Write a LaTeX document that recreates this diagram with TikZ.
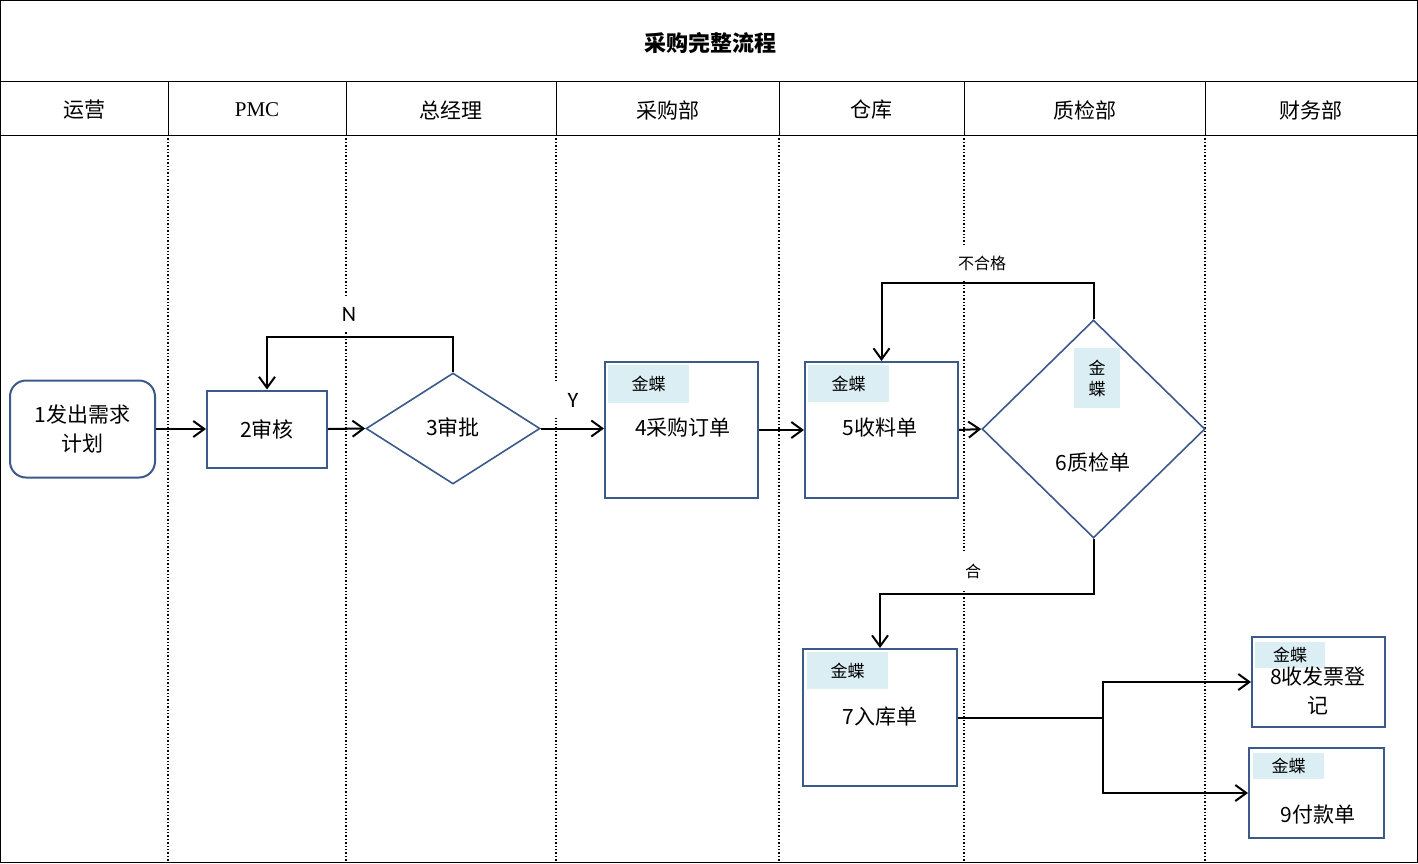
\documentclass[tikz,border=0pt]{standalone}
\usepackage{fontspec}
\newfontfamily\cjk{Noto Sans CJK SC}
\newfontfamily\lat{Carlito}
\newfontfamily\ser{Liberation Serif}
\usetikzlibrary{arrows.meta,shapes.geometric}
\definecolor{bdr}{HTML}{3B5A8A}
\definecolor{kd}{HTML}{DAEEF3}
\tikzset{
  lane/.style={draw=black,line width=1pt},
  sep/.style={draw=black,line width=1.2pt,dash pattern=on 1.4pt off 2pt},
  box/.style={draw=bdr,line width=2pt,fill=white,inner sep=0pt},
  dia/.style={diamond,draw=bdr,line width=1.6pt,fill=white,inner sep=0pt},
  kdtag/.style={fill=kd,inner sep=0pt,align=center,font=\cjk\fontsize{17}{21}\selectfont},
  txt/.style={font=\cjk\fontsize{21}{29}\selectfont,align=center,inner sep=0pt},
  hd/.style={font=\cjk\fontsize{21}{25}\selectfont,inner sep=0pt},
  lbl/.style={fill=white,inner sep=0pt,minimum width=50,minimum height=36,font=\cjk\fontsize{16}{18}\selectfont},
  latlbl/.style={lbl,font=\lat\fontsize{22}{24}\selectfont},
  flow/.style={line width=2pt,-{Straight Barb[length=11pt,width=16pt]}},
  link/.style={line width=2pt},
}
\begin{document}
\begin{tikzpicture}[x=1pt,y=-1pt]
\useasboundingbox (0,0) rectangle (1418,863);
% lane separators
\foreach \x in {168,346,556,779,964,1205} \draw[sep] (\x,135) -- (\x,862);
\draw[lane] (0.5,0.5) rectangle (1417.5,862.5);
\draw[lane] (0,81) -- (1418,81);
\draw[lane] (0,135) -- (1418,135);
\foreach \x in {168,346,556,779,964,1205} \draw[lane] (\x,81) -- (\x,135);
% title and headers
\node[font=\cjk\bfseries\fontsize{22}{26}\selectfont] (title) at (710,43) {采购完整流程};
\node[hd] (h1) at (84,110) {运营};
\node[hd,font=\ser\fontsize{21}{24}\selectfont] (h2) at (257,110) {PMC};
\node[hd] (h3) at (451,110) {总经理};
\node[hd] (h4) at (668,110) {采购部};
\node[hd] (h5) at (871,110) {仓库};
\node[hd] (h6) at (1085,110) {质检部};
\node[hd] (h7) at (1311,110) {财务部};
% nodes
\node[box,txt,rounded corners=16pt,minimum width=145,minimum height=97] (n1) at (82.5,429) {1发出需求\\计划};
\node[box,txt,minimum width=120,minimum height=77] (n2) at (267,429) {2审核};
\node[dia,minimum width=174,minimum height=111] (n3) at (453,428.5) {};
\node[txt] (t3) at (453,427) {3审批};
\node[box,minimum width=153,minimum height=136] (n4) at (681.5,430) {};
\node[kdtag,minimum width=81,minimum height=38] (k4) at (648.5,384) {金蝶};
\node[txt] (t4) at (683,428) {4采购订单};
\node[box,minimum width=153,minimum height=136] (n5) at (881.5,430) {};
\node[kdtag,minimum width=81,minimum height=37] (k5) at (848.5,383.5) {金蝶};
\node[txt] (t5) at (880,428) {5收料单};
\node[dia,minimum width=223,minimum height=218] (n6) at (1093.5,429) {};
\node[kdtag,minimum width=46,minimum height=60] (k6) at (1097,378) {金\\蝶};
\node[txt] (t6) at (1093,462) {6质检单};
\node[box,minimum width=154,minimum height=137] (n7) at (880,717.5) {};
\node[kdtag,minimum width=81,minimum height=37] (k7) at (847.5,670.5) {金蝶};
\node[txt] (t7) at (880,717) {7入库单};
\node[box,minimum width=133,minimum height=90] (n8) at (1318.5,682) {};
\node[kdtag,minimum width=70,minimum height=26] (k8) at (1290,655) {金蝶};
\node[txt] (t8) at (1318,690.5) {8收发票登\\记};
\node[box,minimum width=135,minimum height=90] (n9) at (1316.5,793) {};
\node[kdtag,minimum width=71,minimum height=26] (k9) at (1288.5,766) {金蝶};
\node[txt] (t9) at (1318,815) {9付款单};
% labels
\node[latlbl] (lN) at (349,314) {N};
\node[latlbl] (lY) at (573,400) {Y};
\node[lbl,minimum width=60] (lbad) at (982,263) {不合格};
\node[lbl] (lok) at (973,571) {合};
% connectors
\draw[flow] (n1.east) -- (n2.west);
\draw[flow] (n2.east) -- (n3.west);
\draw[flow] (n3.east) -- (n4.west |- n3.east);
\draw[flow] (n3.north) -- ++(0,-35) -| (n2.north);
\draw[flow] (n4.east) -- (n5.west);
\draw[flow] (n5.east) -- (n6.west);
\draw[flow] (n6.north) -- ++(0,-36) -| (n5.north);
\draw[flow] (n6.south) -- ++(0,55) -| (n7.north);
\coordinate (j) at (1103,717.5);
\draw[link] (n7.east) -- (j);
\draw[flow] (j) |- (n8.west);
\draw[flow] (j) |- (n9.west);
\end{tikzpicture}
\end{document}
